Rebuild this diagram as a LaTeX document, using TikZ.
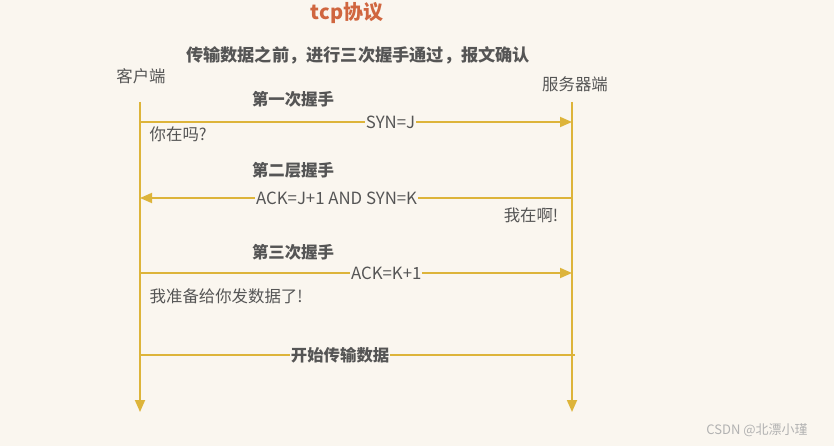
\documentclass[tikz,border=0pt]{standalone}
\usepackage{fontspec}
\setmainfont{Noto Sans CJK SC}
\usepackage{xcolor}
\usetikzlibrary{positioning, arrows.meta}
\definecolor{bg}{HTML}{FAF6EF}
\definecolor{line}{HTML}{DDB43A}
\definecolor{txt}{HTML}{555555}
\definecolor{ttl}{HTML}{D0663F}

\begin{document}
\begin{tikzpicture}[x=1pt,y=-1pt,thick,
    msg/.style={line width=1.8pt,color=line,-{Triangle[width=10pt,length=12pt]}},
    lbl/.style={fill=bg,inner sep=1pt,text=txt,font=\fontsize{16.8}{18}\selectfont},
    hs/.style={text=txt,font=\fontsize{16.4}{18}\selectfont\bfseries},
    note/.style={text=txt,font=\fontsize{16.4}{18}\selectfont}]
       \fill[bg] (0,0) rectangle (834,446);
       \useasboundingbox (0,0) rectangle (834,446);

       \node[text=ttl,font=\fontsize{20}{22}\selectfont\bfseries] (title) at (347,13) {tcp协议};
       \node[hs,font=\fontsize{17.2}{19}\selectfont\bfseries] (intro) at (358,55) {传输数据之前，进行三次握手通过，报文确认};
       \node[note] (client) at (141,76) {客户端};
       \node[note] (server) at (575,84) {服务器端};

       \coordinate (c0) at (140,102);
       \coordinate (c4) at (140,412);
       \coordinate (s0) at (572,102);
       \coordinate (s4) at (572,412);
       \coordinate (c1) at (140,122);
       \coordinate (s1) at (572,122);
       \coordinate (c2) at (140,198);
       \coordinate (s2) at (572,198);
       \coordinate (c3) at (140,273);
       \coordinate (s3) at (572,273);
       \coordinate (cd) at (140,355);
       \coordinate (sd) at (575,355);

       \draw[msg] (c0) -- (c4);
       \draw[msg] (s0) -- (s4);

       % first handshake
       \node[hs] (h1) at (293,99) {第一次握手};
       \draw[msg] (c1) -- node[lbl,pos=0.58] (syn) {SYN=J} (s1);
       \node[note,anchor=west] (ask) at (146,134) {你在吗?};

       % second handshake
       \node[hs] (h2) at (293,170) {第二层握手};
       \draw[msg] (s2) -- node[lbl,pos=0.545] (ack1) {ACK=J+1 AND SYN=K} (c2);
       \node[note] (reply) at (531,215) {我在啊!};

       % third handshake
       \node[hs] (h3) at (293,252) {第三次握手};
       \draw[msg] (c3) -- node[lbl,pos=0.57] (ack2) {ACK=K+1} (s3);
       \node[note,anchor=west] (ready) at (146,296) {我准备给你发数据了!};

       % data
       \draw[line width=1.8pt,line] (cd) -- node[hs,fill=bg,inner sep=1pt,pos=0.46] (data) {开始传输数据} (sd);

       \node[text=black!30,font=\fontsize{13}{15}\selectfont] (mark) at (757,430) {CSDN @北漂小瑾};
    \end{tikzpicture}
\end{document}
